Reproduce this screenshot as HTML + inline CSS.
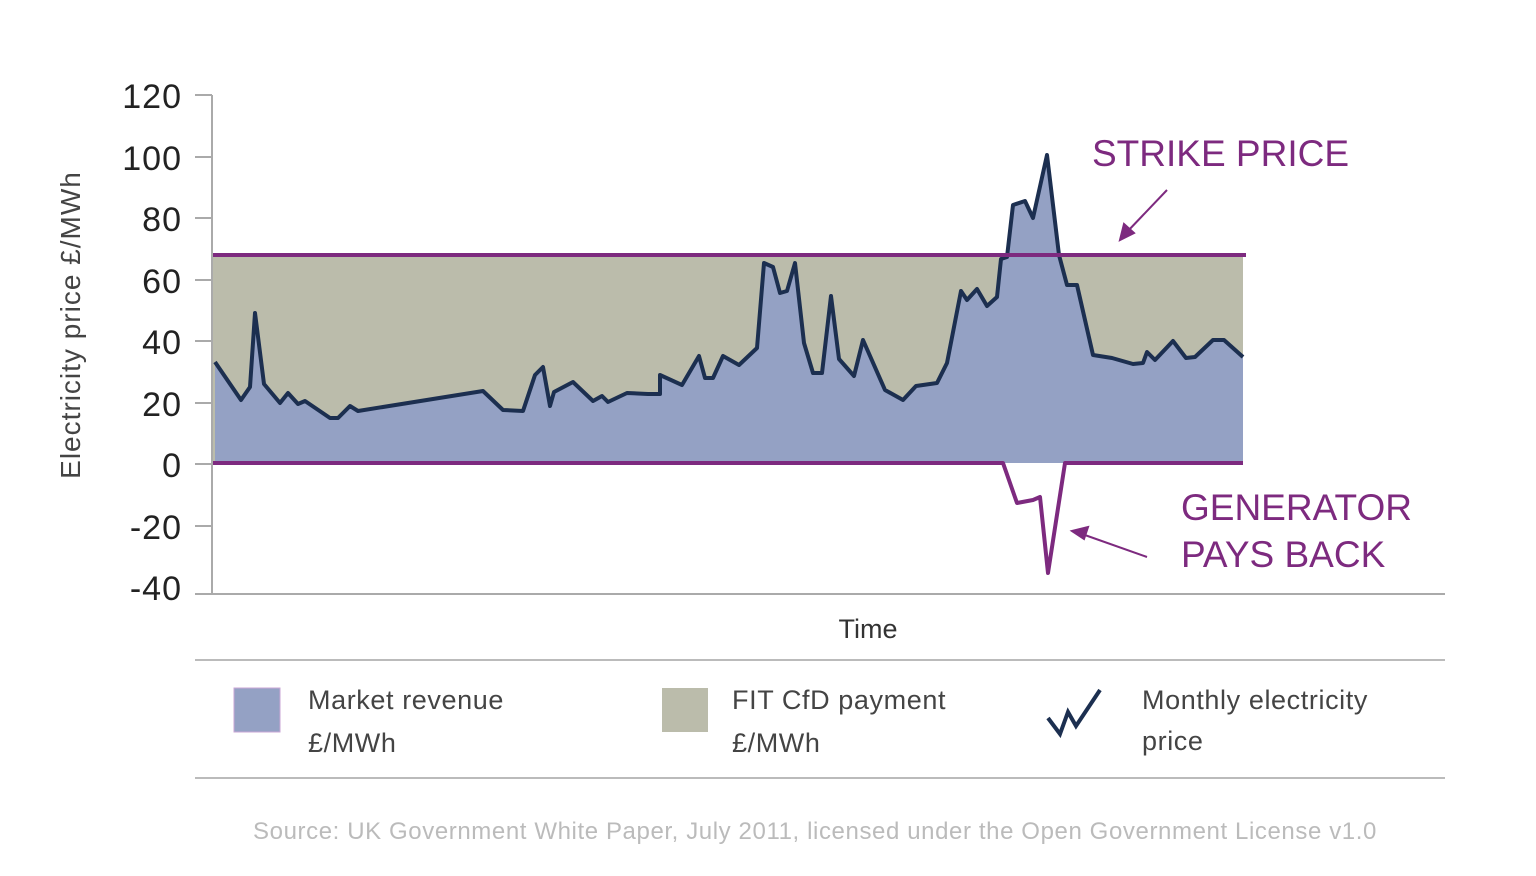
<!DOCTYPE html>
<html><head><style>body{margin:0;background:#fff}svg{display:block}text{font-family:"Liberation Sans",sans-serif}</style></head>
<body>
<svg width="1536" height="876" viewBox="0 0 1536 876" xmlns="http://www.w3.org/2000/svg">
<rect x="213" y="255" width="1030" height="208" fill="#bbbcab"/>
<polygon fill="#94a1c4" points="215,463 215,362 241,400 250,387 255,313 264,384 280,403 288,393 298,404 305,401 330,418 338,418 350,406 358,411 483,391 503,410 523,411 535,375 543,367 550,406 554,392 573,382 593,401 602,396 608,402 627,393 648,394 660,394 660,375 682,385 699,356 705,378 713,378 723,356 739,365 757,348 764,263 773,267 780,293 787,291 795,263 804,343 813,373 822,373 831,296 839,359 854,376 863,340 885,390 903,400 916,386 937,383 947,363 961,291 967,300 977,289 987,306 997,297 1001,259 1007,257 1013,205 1025,201 1033,218 1047,155 1059,255 1067,285 1077,285 1093,355 1112,358 1133,364 1143,363 1147,352 1155,360 1173,341 1186,358 1195,357 1213,340 1224,340 1243,357 1243,463"/>
<polyline fill="none" stroke="#1c2f50" stroke-width="4" stroke-linejoin="round" points="215,362 241,400 250,387 255,313 264,384 280,403 288,393 298,404 305,401 330,418 338,418 350,406 358,411 483,391 503,410 523,411 535,375 543,367 550,406 554,392 573,382 593,401 602,396 608,402 627,393 648,394 660,394 660,375 682,385 699,356 705,378 713,378 723,356 739,365 757,348 764,263 773,267 780,293 787,291 795,263 804,343 813,373 822,373 831,296 839,359 854,376 863,340 885,390 903,400 916,386 937,383 947,363 961,291 967,300 977,289 987,306 997,297 1001,259 1007,257 1013,205 1025,201 1033,218 1047,155 1059,255 1067,285 1077,285 1093,355 1112,358 1133,364 1143,363 1147,352 1155,360 1173,341 1186,358 1195,357 1213,340 1224,340 1243,357"/>
<line x1="213" y1="255" x2="1246" y2="255" stroke="#7d2a7f" stroke-width="4"/>
<polyline fill="none" stroke="#7d2a7f" stroke-width="4" stroke-linejoin="round" points="213,463 1003,463 1017,503 1033,500 1040,497 1048,573 1065,463 1243,463"/>
<g stroke="#aaa" stroke-width="2">
<line x1="212" y1="95" x2="212" y2="595"/>
<line x1="195" y1="594" x2="1445" y2="594"/>
<line x1="195" y1="95" x2="212" y2="95"/><line x1="195" y1="157" x2="212" y2="157"/><line x1="195" y1="218" x2="212" y2="218"/><line x1="195" y1="280" x2="212" y2="280"/><line x1="195" y1="341" x2="212" y2="341"/><line x1="195" y1="403" x2="212" y2="403"/><line x1="195" y1="464" x2="212" y2="464"/><line x1="195" y1="526" x2="212" y2="526"/>
</g>
<g font-size="34" fill="#222" text-anchor="end" letter-spacing="1">
<text x="182" y="108">120</text><text x="182" y="170">100</text><text x="182" y="231">80</text><text x="182" y="293">60</text><text x="182" y="354">40</text><text x="182" y="416">20</text><text x="182" y="477">0</text><text x="182" y="539">-20</text><text x="182" y="600">-40</text>
</g>
<text transform="translate(80,325) rotate(-90)" text-anchor="middle" font-size="28" fill="#444" letter-spacing="1">Electricity price £/MWh</text>
<text x="868" y="638" text-anchor="middle" font-size="27" fill="#333">Time</text>
<g fill="#7d2a7f" font-size="37">
<text x="1092" y="166">STRIKE PRICE</text>
<text x="1181" y="520">GENERATOR</text>
<text x="1181" y="567">PAYS BACK</text>
</g>
<g stroke="#7d2a7f" stroke-width="2" fill="#7d2a7f">
<line x1="1167" y1="190" x2="1126" y2="233"/><polygon points="1120,240 1124,224 1134,233"/>
<line x1="1147" y1="557" x2="1082" y2="534"/><polygon points="1072,531 1088,527 1084,539"/>
</g>
<line x1="195" y1="660" x2="1445" y2="660" stroke="#bbb" stroke-width="2"/>
<line x1="195" y1="778" x2="1445" y2="778" stroke="#bbb" stroke-width="2"/>
<rect x="234" y="688" width="46" height="44" fill="#94a1c4" stroke="#c9a6d6" stroke-width="1"/>
<rect x="662" y="688" width="46" height="44" fill="#bbbcab"/>
<polyline fill="none" stroke="#1c2f50" stroke-width="4" points="1048,718 1060,734 1068,712 1076,726 1100,690"/>
<g font-size="27" fill="#444" letter-spacing="0.6">
<text x="308" y="709">Market revenue</text><text x="308" y="752">£/MWh</text>
<text x="732" y="709">FIT CfD payment</text><text x="732" y="752">£/MWh</text>
<text x="1142" y="709">Monthly electricity</text><text x="1142" y="750">price</text>
</g>
<text x="815" y="839" text-anchor="middle" font-size="24" fill="#bbb" letter-spacing="0.6">Source: UK Government White Paper, July 2011, licensed under the Open Government License v1.0</text>
</svg>
</body></html>
